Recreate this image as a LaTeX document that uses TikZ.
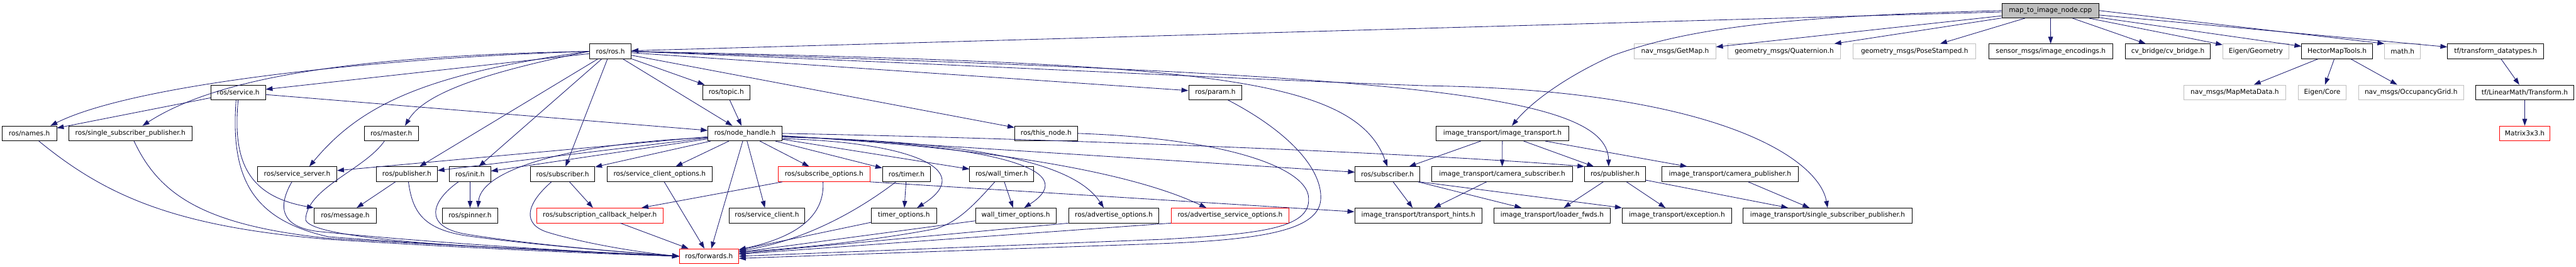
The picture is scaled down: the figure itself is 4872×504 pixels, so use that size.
\documentclass[tikz,border=0pt]{standalone}
\usepackage{fontspec}
\setmainfont{DejaVu Sans}
\usepackage{tikz}
\usetikzlibrary{arrows.meta, calc}
\definecolor{edgeblue}{RGB}{25,25,112}
\definecolor{extgray}{RGB}{191,191,191}
\definecolor{rootgray}{RGB}{191,191,191}
\definecolor{incred}{RGB}{255,0,0}

\begin{document}
\begin{tikzpicture}[x=1pt, y=1pt,
    file/.style={draw=black, line width=1pt, fill=white, minimum height=28pt,
                 inner xsep=3pt, inner ysep=0pt, font=\fontsize{12.6}{15}\selectfont},
    extfile/.style={file, draw=extgray},
    redfile/.style={file, draw=incred},
    rootfile/.style={file, fill=rootgray},
    dep/.style={draw=edgeblue, line width=1pt, -{Triangle[length=13pt,width=9pt]}}]
  \useasboundingbox (0,0) rectangle (4872,-504);
  % Main file
  \node[rootfile, minimum width=184] (cpp) at (3878,-20) {map\_to\_image\_node.cpp};
  % Row 1
  \node[file, minimum width=79] (rosh) at (1154.5,-97) {ros/ros.h};
  \node[extfile, minimum width=154] (getmap) at (3168,-97) {nav\_msgs/GetMap.h};
  \node[extfile, minimum width=213] (quat) at (3374.5,-97) {geometry\_msgs/Quaternion.h};
  \node[extfile, minimum width=232] (pose) at (3621,-97) {geometry\_msgs/PoseStamped.h};
  \node[file, minimum width=235] (enc) at (3878.5,-97) {sensor\_msgs/image\_encodings.h};
  \node[file, minimum width=160] (cvb) at (4100,-97) {cv\_bridge/cv\_bridge.h};
  \node[extfile, minimum width=125] (eigeo) at (4266.5,-97) {Eigen/Geometry};
  \node[file, minimum width=134] (hmt) at (4420,-97) {HectorMapTools.h};
  \node[extfile, minimum width=68] (math) at (4544,-97) {math.h};
  \node[file, minimum width=182] (tfdt) at (4720,-97) {tf/transform\_datatypes.h};
  % Row 2
  \node[file, minimum width=103] (service) at (450.5,-174.5) {ros/service.h};
  \node[file, minimum width=89] (topic) at (1373.5,-174.5) {ros/topic.h};
  \node[file, minimum width=101] (param) at (2298.5,-174.5) {ros/param.h};
  \node[extfile, minimum width=193] (mapmeta) at (4226.5,-174.5) {nav\_msgs/MapMetaData.h};
  \node[extfile, minimum width=90] (eicore) at (4392,-174.5) {Eigen/Core};
  \node[extfile, minimum width=198] (occ) at (4560,-174.5) {nav\_msgs/OccupancyGrid.h};
  \node[file, minimum width=186] (tflm) at (4775,-174.5) {tf/LinearMath/Transform.h};
  % Row 3
  \node[file, minimum width=103] (names) at (55.5,-252) {ros/names.h};
  \node[file, minimum width=233] (ssp) at (246.5,-252) {ros/single\_subscriber\_publisher.h};
  \node[file, minimum width=102] (master) at (740,-252) {ros/master.h};
  \node[file, minimum width=140] (nh) at (1409,-252) {ros/node\_handle.h};
  \node[file, minimum width=119] (thisnode) at (1978.5,-252) {ros/this\_node.h};
  \node[file, minimum width=251] (it) at (2841.5,-252) {image\_transport/image\_transport.h};
  \node[redfile, minimum width=96] (mat33) at (4775,-252) {Matrix3x3.h};
  % Row 4
  \node[file, minimum width=150] (srvserver) at (562,-329) {ros/service\_server.h};
  \node[file, minimum width=115] (pub) at (769.5,-329) {ros/publisher.h};
  \node[file, minimum width=78] (init) at (889,-329) {ros/init.h};
  \node[file, minimum width=122] (sub) at (1064,-329) {ros/subscriber.h};
  \node[file, minimum width=199] (sco) at (1247.5,-329) {ros/service\_client\_options.h};
  \node[redfile, minimum width=173] (subopt) at (1558.5,-329) {ros/subscribe\_options.h};
  \node[file, minimum width=91] (timer) at (1714.5,-329) {ros/timer.h};
  \node[file, minimum width=121] (wtimer) at (1894.5,-329) {ros/wall\_timer.h};
  \node[file, minimum width=122] (sub2) at (2624,-329) {ros/subscriber.h};
  \node[file, minimum width=266] (camsub) at (2841,-329) {image\_transport/camera\_subscriber.h};
  \node[file, minimum width=115] (pub2) at (3054.5,-329) {ros/publisher.h};
  \node[file, minimum width=258] (campub) at (3272,-329) {image\_transport/camera\_publisher.h};
  % Row 5
  \node[file, minimum width=118] (message) at (653,-407) {ros/message.h};
  \node[file, minimum width=104] (spinner) at (889,-407) {ros/spinner.h};
  \node[redfile, minimum width=239] (sch) at (1134.5,-407) {ros/subscription\_callback\_helper.h};
  \node[file, minimum width=143] (srvclient) at (1450.5,-407) {ros/service\_client.h};
  \node[file, minimum width=123] (topt) at (1709.5,-407) {timer\_options.h};
  \node[file, minimum width=152] (wtopt) at (1921,-407) {wall\_timer\_options.h};
  \node[file, minimum width=171] (advopt) at (2106.5,-407) {ros/advertise\_options.h};
  \node[redfile, minimum width=223] (advsrv) at (2326.5,-407) {ros/advertise\_service\_options.h};
  \node[file, minimum width=241] (hints) at (2682.5,-407) {image\_transport/transport\_hints.h};
  \node[file, minimum width=219] (loader) at (2935.5,-407) {image\_transport/loader\_fwds.h};
  \node[file, minimum width=207] (exc) at (3171.5,-407) {image\_transport/exception.h};
  \node[file, minimum width=319] (itssp) at (3456.5,-407) {image\_transport/single\_subscriber\_publisher.h};
  % Row 6
  \node[redfile, minimum width=112] (fwd) at (1341,-484) {ros/forwards.h};

  % Includes of the main file
  \draw[dep] (cpp) -- (rosh);
  \draw[dep] (cpp) -- (getmap);
  \draw[dep] (cpp) -- (quat);
  \draw[dep] (cpp) -- (pose);
  \draw[dep] (cpp) -- (enc);
  \draw[dep] (cpp) -- (cvb);
  \draw[dep] (cpp) -- (eigeo);
  \draw[dep] (cpp) -- (hmt);
  \draw[dep] (cpp.east) -- (math.north west);
  \draw[dep] (cpp) -- (tfdt);
  \draw[dep] (cpp.west) .. controls (3400,-30) and (3200,-50) .. (3050,-105)
    .. controls (2950,-150) and (2890,-200) .. ([xshift=18pt]it.north);
  \draw[dep] (hmt) -- (mapmeta);
  \draw[dep] (hmt) -- (eicore);
  \draw[dep] (hmt) -- (occ);
  \draw[dep] (tfdt) -- (tflm);
  \draw[dep] (tflm) -- (mat33);

  % ros/ros.h
  \draw[dep] (rosh.west) .. controls (700,-110) and (250,-160) .. ([xshift=-12pt]names.north east);
  \draw[dep] (rosh.west) .. controls (700,-105) and (420,-140) .. ([xshift=23pt]ssp.north);
  \draw[dep] (rosh) -- (service);
  \draw[dep] (rosh.west) .. controls (800,-140) and (680,-200) .. ([xshift=23pt]srvserver.north);
  \draw[dep] (rosh.west) .. controls (900,-140) and (800,-180) .. ([xshift=26pt]master.north);
  \draw[dep] (rosh) -- (pub);
  \draw[dep] (rosh) -- (init);
  \draw[dep] (rosh) -- (sub);
  \draw[dep] (rosh) -- (nh);
  \draw[dep] (rosh) -- (topic);
  \draw[dep] (rosh) -- (thisnode);
  \draw[dep] (rosh) -- (param);
  \draw[dep] (rosh.east) .. controls (2250,-120) and (2560,-140) .. (sub2.north);
  \draw[dep] (rosh.east) .. controls (2600,-140) and (3040,-170) .. ([xshift=-12pt]pub2.north);
  \draw[dep] (rosh.east) .. controls (2000,-130) and (2350,-150) .. (2700,-162)
    .. controls (3250,-170) and (3440,-300) .. (itssp.north);
  \draw[dep] (topic) -- (nh);

  % ros/service.h
  \draw[dep] (service) -- (names);
  \draw[dep] (service) -- (nh);
  \draw[dep] (service.south) .. controls (440,-300) and (465,-370) .. (message.north west);
  \draw[dep] ([xshift=-4pt]service.south) .. controls (435,-340) and (480,-415) .. (620,-447)
    .. controls (850,-465) and (1150,-478) .. (fwd.west);

  % into ros/forwards.h from the left
  \draw[dep] ([xshift=18pt]names.south) .. controls (200,-370) and (330,-428) .. (620,-452)
    .. controls (900,-470) and (1150,-480) .. (fwd.west);
  \draw[dep] ([xshift=7pt]ssp.south) .. controls (300,-365) and (380,-425) .. (620,-450)
    .. controls (900,-467) and (1150,-478) .. (fwd.west);
  \draw[dep] ([xshift=-10pt]srvserver.south) .. controls (525,-390) and (530,-428) .. (600,-437)
    .. controls (850,-462) and (1150,-478) .. (fwd.west);
  \draw[dep] ([xshift=-13pt]master.south) .. controls (690,-320) and (580,-355) .. (578,-415)
    .. controls (585,-445) and (800,-462) .. (1000,-470) -- (fwd.west);
  \draw[dep] (pub) -- (message);
  \draw[dep] ([xshift=3pt]pub.south) .. controls (780,-400) and (800,-432) .. (880,-445)
    .. controls (1000,-462) and (1200,-478) .. (fwd.west);
  \draw[dep] (init) -- (spinner);
  \draw[dep] ([xshift=-22pt]init.south) .. controls (815,-380) and (800,-428) .. (880,-442)
    .. controls (1000,-462) and (1200,-478) .. (fwd.west);
  \draw[dep] (sub) -- (sch);
  \draw[dep] ([xshift=-21pt]sub.south) .. controls (995,-385) and (985,-425) .. (1040,-440)
    .. controls (1100,-458) and (1200,-476) .. (fwd.west);
  \draw[dep] (sch) -- (fwd);
  \draw[dep] (sco) -- (fwd);

  % ros/node_handle.h
  \draw[dep] (nh) -- (srvserver);
  \draw[dep] (nh) -- (pub);
  \draw[dep] (nh) -- (init);
  \draw[dep] ([yshift=-8pt]nh.west) .. controls (1080,-270) and (910,-320) .. ([xshift=15pt]spinner.north);
  \draw[dep] (nh) -- (sub);
  \draw[dep] (nh) -- (sco);
  \draw[dep] (nh) -- (fwd);
  \draw[dep] (nh) -- (srvclient);
  \draw[dep] (nh) -- (subopt);
  \draw[dep] (nh) -- (timer);
  \draw[dep] ([yshift=-10pt]nh.east) .. controls (1720,-268) and (1850,-320) .. ([xshift=25pt]topt.north);
  \draw[dep] (nh) -- (wtimer);
  \draw[dep] ([yshift=-6pt]nh.east) .. controls (1880,-272) and (2050,-320) .. ([xshift=16pt]wtopt.north);
  \draw[dep] ([yshift=-7pt]nh.east) .. controls (1900,-268) and (2040,-320) .. ([xshift=-19pt]advopt.north);
  \draw[dep] ([yshift=-5pt]nh.east) .. controls (1900,-280) and (2150,-330) .. ([xshift=-45pt]advsrv.north);
  \draw[dep] (nh) -- (sub2);
  \draw[dep] (nh.east) .. controls (2000,-262) and (2700,-290) .. (pub2.north west);

  % options and timers
  \draw[dep] (subopt) -- (sch);
  \draw[dep] ([xshift=-2pt]subopt.south) .. controls (1560,-400) and (1520,-445) .. ([yshift=-2pt]fwd.north east);
  \draw[dep] (subopt.south east) -- ([yshift=7pt]hints.west);
  \draw[dep] (timer) -- (topt);
  \draw[dep] ([xshift=-20pt]timer.south) .. controls (1620,-400) and (1520,-455) .. ([yshift=10pt]fwd.east);
  \draw[dep] (topt) -- (fwd);
  \draw[dep] (wtimer) -- (wtopt);
  \draw[dep] ([xshift=-13pt]wtimer.south) .. controls (1840,-390) and (1810,-420) .. (1770,-432)
    .. controls (1650,-455) and (1500,-470) .. ([yshift=8pt]fwd.east);
  \draw[dep] (wtopt) -- (fwd);
  \draw[dep] (advopt.south west) -- ([yshift=5pt]fwd.east);
  \draw[dep] (advsrv.south west) -- ([yshift=4pt]fwd.east);
  \draw[dep] (thisnode.east) .. controls (2330,-262) and (2475,-320) .. (2475,-375)
    .. controls (2478,-432) and (2380,-442) .. (2200,-452) -- (fwd.east);
  \draw[dep] ([xshift=24pt]param.south) .. controls (2440,-250) and (2500,-320) .. (2498,-375)
    .. controls (2496,-432) and (2400,-452) .. (2200,-460) -- ([yshift=-4pt]fwd.east);

  % image_transport
  \draw[dep] (it) -- (sub2);
  \draw[dep] (it) -- (camsub);
  \draw[dep] (it) -- (pub2);
  \draw[dep] (it) -- (campub);
  \draw[dep] (sub2) -- (hints);
  \draw[dep] (sub2) -- (loader);
  \draw[dep] (sub2.south east) -- (exc.north west);
  \draw[dep] (camsub) -- (hints);
  \draw[dep] (pub2) -- (loader);
  \draw[dep] (pub2) -- (exc);
  \draw[dep] (pub2) -- (itssp);
  \draw[dep] (campub) -- (itssp);
\end{tikzpicture}
\end{document}
